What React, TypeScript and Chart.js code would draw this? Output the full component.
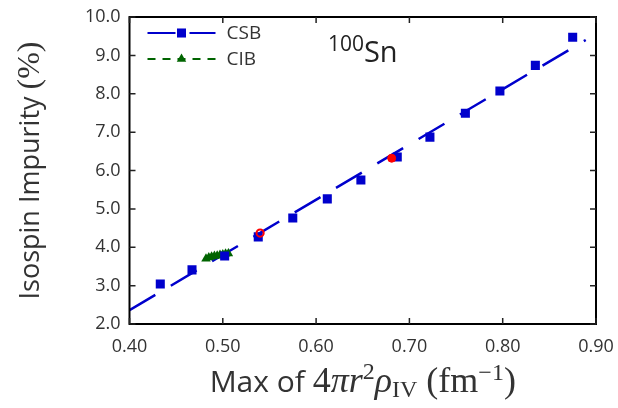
import React, { useEffect, useRef } from 'react';
import { Chart, registerables } from 'chart.js';
Chart.register(...registerables);

// ---- data ----
const csbX = [0.433, 0.467, 0.502, 0.538, 0.575, 0.612, 0.648, 0.687, 0.722, 0.760, 0.797, 0.835, 0.875];
const csbY = [3.04, 3.41, 3.77, 4.27, 4.76, 5.26, 5.75, 6.35, 6.87, 7.49, 8.07, 8.74, 9.47];
const fitX = [0.40, 0.889];
const fitY = [2.36, 9.40];
const cibX = [0.482, 0.485, 0.488, 0.491, 0.494, 0.497, 0.500, 0.503, 0.506];
const cibY = [3.70, 3.73, 3.75, 3.77, 3.78, 3.80, 3.81, 3.83, 3.84];
const redFilledX = [0.681];
const redFilledY = [6.32];
const redOpenX = [0.540];
const redOpenY = [4.37];
const xTicks = [0.4, 0.5, 0.6, 0.7, 0.8, 0.9];
const yTicks = [2, 3, 4, 5, 6, 7, 8, 9, 10];
const legendLabels = ['CSB', 'CIB'];

const BLUE = '#0000cc';
const GREEN = '#006400';
const RED = '#ff0000';
const TEXT = '#333333';
const SANS = '"Open Sans", "DejaVu Sans", sans-serif';
const SERIF = '"Liberation Serif", "DejaVu Serif", serif';

type Seg = { t: string; font: string; dy?: number };

function drawSegs(ctx: CanvasRenderingContext2D, segs: Seg[], cx: number, cy: number) {
  let total = 0;
  for (const s of segs) {
    ctx.font = s.font;
    total += ctx.measureText(s.t).width;
  }
  let x = cx - total / 2;
  for (const s of segs) {
    ctx.font = s.font;
    ctx.fillText(s.t, x, cy + (s.dy || 0));
    x += ctx.measureText(s.t).width;
  }
}

function drawMarker(ctx: CanvasRenderingContext2D, style: string, r: number, x: number, y: number) {
  ctx.beginPath();
  if (style === 'rect') {
    const s = Math.SQRT1_2 * r;
    ctx.rect(x - s, y - s, 2 * s, 2 * s);
  } else if (style === 'triangle') {
    const rad = -Math.PI / 2;
    for (let i = 0; i < 3; i++) {
      const ang = rad + (i * 2 * Math.PI) / 3;
      const px = x + Math.cos(ang) * r;
      const py = y + Math.sin(ang) * r;
      if (i === 0) ctx.moveTo(px, py);
      else ctx.lineTo(px, py);
    }
    ctx.closePath();
  }
  ctx.fill();
}

const decorPlugin = {
  id: 'decor',
  afterDatasetsDraw(chart: any) {
    const { ctx, chartArea: a, scales } = chart;
    const xs = scales.x;
    const ys = scales.y;
    ctx.save();
    // frame
    ctx.strokeStyle = '#000';
    ctx.lineWidth = 2;
    ctx.strokeRect(a.left, a.top, a.right - a.left, a.bottom - a.top);
    // inward ticks
    ctx.lineWidth = 1.5;
    ctx.strokeStyle = '#222';
    const tl = 6;
    ctx.beginPath();
    for (const v of xTicks) {
      const px = xs.getPixelForValue(v);
      ctx.moveTo(px, a.bottom);
      ctx.lineTo(px, a.bottom - tl);
      ctx.moveTo(px, a.top);
      ctx.lineTo(px, a.top + tl);
    }
    for (const v of yTicks) {
      const py = ys.getPixelForValue(v);
      ctx.moveTo(a.left, py);
      ctx.lineTo(a.left + tl, py);
      ctx.moveTo(a.right, py);
      ctx.lineTo(a.right - tl, py);
    }
    ctx.stroke();

    // legend
    const lx = a.left + 18;
    const items = [
      { ds: chart.data.datasets[2], label: legendLabels[0], y: a.top + 16 },
      { ds: chart.data.datasets[3], label: legendLabels[1], y: a.top + 42 },
    ];
    for (const it of items) {
      const ds = it.ds;
      ctx.strokeStyle = ds.legendLineColor;
      ctx.lineWidth = 2.2;
      ctx.setLineDash(ds.legendDash);
      ctx.beginPath();
      ctx.moveTo(lx, it.y);
      ctx.lineTo(lx + 68, it.y);
      ctx.stroke();
      ctx.setLineDash([]);
      ctx.fillStyle = ds.pointBackgroundColor;
      drawMarker(ctx, ds.pointStyle, ds.pointRadius, lx + 34, it.y);
      ctx.fillStyle = TEXT;
      ctx.font = `19px ${SANS}`;
      ctx.textBaseline = 'middle';
      ctx.textAlign = 'left';
      ctx.fillText(it.label, lx + 79, it.y + 1);
    }

    // title 100Sn
    ctx.fillStyle = '#222';
    ctx.textBaseline = 'alphabetic';
    ctx.textAlign = 'left';
    drawSegs(ctx, [
      { t: '100', font: `21px ${SANS}`, dy: -11 },
      { t: 'Sn', font: `29px ${SANS}` },
    ], (a.left + a.right) / 2, a.top + 45);

    // x axis title
    ctx.fillStyle = TEXT;
    const big = 36;
    const small = 24;
    drawSegs(ctx, [
      { t: 'Max of ', font: `30px ${SANS}` },
      { t: '4', font: `${big}px ${SERIF}` },
      { t: 'πr', font: `italic ${big}px ${SERIF}` },
      { t: '2', font: `${small}px ${SERIF}`, dy: -13 },
      { t: 'ρ', font: `italic ${big}px ${SERIF}` },
      { t: 'IV', font: `${small}px ${SERIF}`, dy: 5 },
      { t: ' (fm', font: `${big}px ${SERIF}` },
      { t: '−1', font: `${small}px ${SERIF}`, dy: -12 },
      { t: ')', font: `${big}px ${SERIF}` },
    ], (a.left + a.right) / 2, 392);

    // y axis title
    ctx.save();
    ctx.translate(39, (a.top + a.bottom) / 2);
    ctx.rotate(-Math.PI / 2);
    drawSegs(ctx, [
      { t: 'Isospin Impurity ', font: `27px ${SANS}` },
      { t: '(%)', font: `32px ${SERIF}` },
    ], 0, 0);
    ctx.restore();
    ctx.restore();
  },
};

export default function App() {
  const ref = useRef<HTMLCanvasElement>(null);
  useEffect(() => {
    document.body.style.margin = '0';
    const canvas = ref.current!;
    const pts = (xs: number[], ys: number[]) => xs.map((x, i) => ({ x, y: ys[i] }));
    const chart = new Chart(canvas, {
      type: 'scatter',
      data: {
        datasets: [
          {
            label: 'filled',
            data: pts(redFilledX, redFilledY),
            pointStyle: 'circle',
            pointRadius: 4,
            pointBackgroundColor: RED,
            pointBorderColor: RED,
            pointBorderWidth: 1,
            showLine: false,
          },
          {
            label: 'open',
            data: pts(redOpenX, redOpenY),
            pointStyle: 'circle',
            pointRadius: 3.6,
            pointBackgroundColor: 'rgba(255,255,255,0)',
            pointBorderColor: RED,
            pointBorderWidth: 2,
            showLine: false,
          },
          {
            label: 'CSB',
            data: pts(csbX, csbY),
            pointStyle: 'rect',
            pointRadius: 6.4,
            pointBackgroundColor: BLUE,
            pointBorderColor: BLUE,
            pointBorderWidth: 0,
            showLine: false,
            legendLineColor: BLUE,
            legendDash: [28, 14],
          } as any,
          {
            label: 'CIB',
            data: pts(cibX, cibY),
            pointStyle: 'triangle',
            pointRadius: 5.5,
            pointBackgroundColor: GREEN,
            pointBorderColor: GREEN,
            pointBorderWidth: 0,
            showLine: true,
            borderColor: GREEN,
            borderWidth: 2,
            borderDash: [6, 5],
            legendLineColor: GREEN,
            legendDash: [8, 7],
          } as any,
          {
            label: 'fit',
            data: pts(fitX, fitY),
            pointRadius: 0,
            showLine: true,
            borderColor: BLUE,
            borderWidth: 2.5,
            borderDash: [30, 18],
          },
        ],
      },
      options: {
        responsive: false,
        animation: false,
        devicePixelRatio: 1,
        layout: { padding: { top: 17, right: 22, left: 0, bottom: 0 } },
        plugins: { legend: { display: false }, tooltip: { enabled: false } },
        scales: {
          x: {
            type: 'linear',
            min: 0.4,
            max: 0.9,
            afterBuildTicks: (s: any) => { s.ticks = xTicks.map((v) => ({ value: v })); },
            afterFit: (s: any) => {
              s.height = 84;
              s.paddingRight = 0;
              s.paddingLeft = 0;
            },
            grid: { display: false, drawTicks: false },
            border: { display: false },
            ticks: {
              padding: 12,
              color: TEXT,
              font: { family: SANS, size: 18 },
              callback: (v: any) => Number(v).toFixed(2),
              maxRotation: 0,
            },
          },
          y: {
            type: 'linear',
            min: 2,
            max: 10,
            afterBuildTicks: (s: any) => { s.ticks = yTicks.map((v) => ({ value: v })); },
            afterFit: (s: any) => {
              s.width = 129.5;
              s.paddingTop = 0;
              s.paddingBottom = 0;
            },
            grid: { display: false, drawTicks: false },
            border: { display: false },
            ticks: {
              padding: 9,
              color: TEXT,
              font: { family: SANS, size: 18 },
              callback: (v: any) => Number(v).toFixed(1),
            },
          },
        },
      },
      plugins: [decorPlugin],
    });
    return () => chart.destroy();
  }, []);
  return <canvas ref={ref} width={618} height={408} style={{ display: 'block' }} />;
}
